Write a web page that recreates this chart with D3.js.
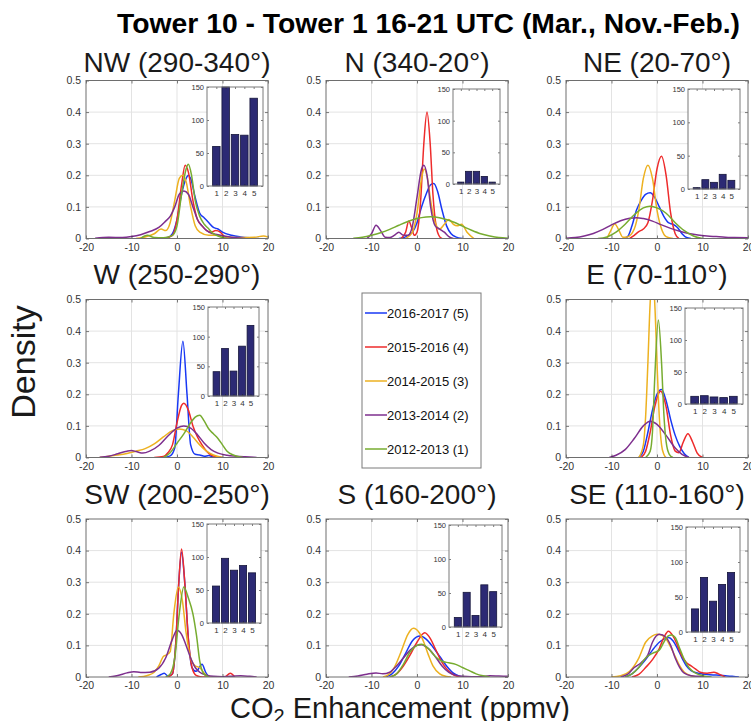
<!DOCTYPE html>
<html>
<head>
<meta charset="utf-8">
<script src="https://cdn.jsdelivr.net/npm/d3@7"></script>
<style>
  body { margin: 0; background: #fff; }
  text { font-family: "Liberation Sans", Arial, Helvetica, sans-serif; }
</style>
</head>
<body>
<svg id="chart"></svg>
<script>
// seasons, in legend order (plot order too)
var seasons = ["2016-2017 (5)", "2015-2016 (4)", "2014-2015 (3)", "2013-2014 (2)", "2012-2013 (1)"];
var barLabels = [1, 2, 3, 4, 5];
var xTicks = [-20, -10, 0, 10, 20];
var yTicks = [0, 0.1, 0.2, 0.3, 0.4, 0.5];
var countTicks = [0, 50, 100, 150];

// number of samples per season (1 = 2012-2013 ... 5 = 2016-2017)
var countsNW = [60, 150, 78, 77, 133];
var countsN  = [3, 20, 20, 12, 3];
var countsNE = [2, 14, 10, 22, 13];
var countsW  = [41, 80, 42, 84, 119];
var countsE  = [12, 13, 11, 10, 12];
var countsSW = [56, 98, 80, 87, 76];
var countsS  = [14, 51, 17, 62, 52];
var countsSE = [33, 78, 44, 68, 85];

// density curves [enhancement, density], order: 2016-17, 2015-16, 2014-15, 2013-14, 2012-13
var densNW = [
  [[-4,0],[-2,0.003],[-1,0.015],[0,0.06],[1,0.14],[2,0.19],[2.5,0.2],[3,0.19],[4,0.13],[5,0.08],[6,0.065],[7,0.05],[8,0.035],[9,0.03],[10,0.02],[12,0.01],[14,0.005],[16,0.002],[18,0]],
  [[-3,0],[-1,0.01],[0,0.06],[1,0.17],[1.8,0.232],[2.5,0.21],[3.5,0.12],[4.5,0.06],[5.5,0.04],[6.5,0.025],[7.5,0.02],[8.5,0.025],[9.5,0.02],[10.5,0.005],[11.5,0]],
  [[-9,0],[-7,0.005],[-5,0.015],[-3.5,0.03],[-2.5,0.025],[-1.5,0.05],[-0.5,0.12],[0.5,0.19],[1.2,0.2],[2,0.18],[3,0.1],[4,0.04],[5,0.02],[7,0.01],[9,0.01],[11,0.005],[14,0.003],[17,0.004],[19,0.008],[20,0.005]],
  [[-18,0.001],[-15,0.004],[-12,0.003],[-10,0.006],[-8,0.012],[-6,0.022],[-4,0.035],[-2.5,0.055],[-1.5,0.07],[-0.5,0.1],[0.5,0.14],[1.5,0.15],[2.5,0.14],[3.5,0.1],[4.5,0.06],[5.5,0.04],[7,0.02],[9,0.012],[11,0.006],[13,0.002],[15,0]],
  [[-8,0],[-6.5,0.01],[-5,0.003],[-3,0.002],[-1,0.01],[0,0.04],[1,0.14],[2,0.22],[2.5,0.235],[3.2,0.2],[4,0.12],[5,0.07],[6,0.045],[7,0.03],[8,0.015],[9,0.008],[11,0]]
];
var densN = [
  [[-4,0],[-2.5,0.005],[-1,0.02],[0,0.05],[1,0.1],[2,0.14],[3,0.17],[3.7,0.174],[4.5,0.15],[5.5,0.09],[6.5,0.04],[7.5,0.015],[8.5,0.005],[10,0]],
  [[-3.5,0],[-2.5,0.02],[-1.8,0.055],[-1.2,0.035],[-0.6,0.01],[0,0.02],[0.8,0.12],[1.5,0.3],[2.2,0.4],[2.9,0.3],[3.5,0.14],[4.2,0.04],[5,0.005],[5.5,0]],
  [[-2.5,0],[-1,0.02],[0,0.08],[1,0.19],[1.6,0.22],[2.3,0.19],[3,0.12],[4,0.05],[5,0.03],[6,0.045],[7,0.06],[8,0.045],[8.8,0.04],[9.8,0.045],[11,0.02],[12.5,0]],
  [[-11,0],[-10,0.015],[-9,0.042],[-8,0.025],[-7,0.004],[-6,0.003],[-5,0.01],[-4,0.02],[-3,0.01],[-2,0.01],[-1,0.04],[0,0.13],[1,0.22],[1.5,0.232],[2.2,0.2],[3,0.1],[4,0.04],[5,0.03],[6,0.02],[7,0.006],[8,0]],
  [[-14,0.001],[-12,0.004],[-10,0.01],[-8,0.018],[-6,0.029],[-4,0.042],[-2,0.054],[0,0.063],[2,0.068],[3,0.069],[4,0.068],[6,0.062],[8,0.052],[10,0.039],[12,0.026],[14,0.015],[16,0.008],[18,0.003],[20,0.001]]
];
var densNE = [
  [[-7.5,0],[-6.5,0.005],[-5.5,0.04],[-4.5,0.09],[-3.5,0.12],[-2.5,0.14],[-1.5,0.145],[-0.5,0.13],[0.5,0.1],[1.5,0.07],[2.5,0.05],[3.5,0.045],[4.5,0.035],[5.5,0.015],[6.5,0.003],[7.5,0]],
  [[-6,0],[-5,0.01],[-4,0.022],[-3,0.03],[-2,0.05],[-1,0.12],[0,0.22],[1,0.26],[2,0.2],[3,0.08],[4,0.015],[4.8,0]],
  [[-11,0],[-10,0.03],[-9.3,0.047],[-8.5,0.03],[-7.5,0.004],[-6.5,0.005],[-5,0.03],[-4,0.09],[-3,0.19],[-2,0.232],[-1,0.19],[0,0.09],[1,0.03],[2,0.006],[3.5,0]],
  [[-20,0.001],[-18,0.003],[-16,0.008],[-14,0.016],[-12,0.028],[-10,0.043],[-8,0.056],[-6,0.064],[-4.5,0.066],[-3,0.063],[-1,0.055],[1,0.043],[3,0.032],[5,0.023],[7,0.016],[9,0.011],[11,0.008],[13,0.006],[15,0.004],[17,0.003],[20,0.002]],
  [[-13,0],[-11,0.005],[-9,0.02],[-7,0.045],[-5,0.075],[-3,0.097],[-1.5,0.102],[0,0.097],[2,0.08],[4,0.05],[6,0.025],[8,0.008],[10,0]]
];
var densW = [
  [[-3,0],[-1.5,0.005],[-0.5,0.03],[0.3,0.2],[1.3,0.368],[2.2,0.2],[3,0.04],[4,0.01],[5,0.008],[6,0.004],[7,0.006],[8,0.001],[9,0]],
  [[-5,0],[-3,0.003],[-2,0.015],[-1,0.04],[0,0.11],[1,0.165],[1.5,0.172],[2.5,0.15],[3.5,0.1],[4.5,0.065],[5.5,0.04],[6.5,0.02],[7.5,0.008],[9,0.002],[10,0]],
  [[-17,0],[-15,0.004],[-13,0.008],[-11,0.013],[-9,0.02],[-7,0.028],[-5,0.043],[-3,0.065],[-1,0.085],[0.5,0.09],[2,0.085],[3.5,0.065],[5,0.04],[6.5,0.02],[8,0.008],[10,0]],
  [[-17,0.001],[-15,0.004],[-13,0.012],[-11,0.02],[-10,0.022],[-9,0.019],[-7.5,0.014],[-6,0.02],[-4,0.038],[-2,0.068],[0,0.093],[1.5,0.1],[3,0.093],[4.5,0.072],[6,0.045],[7.5,0.025],[9,0.014],[11,0.007],[13,0.004],[15,0.002],[17.5,0]],
  [[-3,0],[-1.5,0.015],[0,0.045],[1.5,0.075],[3,0.11],[4,0.128],[5,0.134],[6,0.115],[7,0.09],[8,0.075],[9,0.06],[10,0.04],[11,0.02],[12.5,0.007],[14.5,0]]
];
var densE = [
  [[-4,0],[-3,0.02],[-2,0.08],[-1,0.15],[0,0.2],[1,0.215],[2,0.18],[3,0.12],[4,0.07],[5,0.035],[6,0.012],[7,0]],
  [[-3.5,0],[-2.5,0.02],[-1.5,0.08],[-0.5,0.16],[0.8,0.21],[2,0.16],[3,0.07],[4,0.02],[4.8,0.015],[5.8,0.05],[6.8,0.075],[7.8,0.05],[8.8,0.015],[10,0]],
  [[-4,0],[-3,0.04],[-2.5,0.13],[-2,0.3],[-1.5,0.49],[-1,0.57],[-0.5,0.49],[0,0.3],[0.5,0.13],[1,0.04],[1.5,0.01],[2,0]],
  [[-10.5,0],[-9,0.007],[-7,0.025],[-5,0.06],[-3,0.1],[-1.5,0.115],[0,0.105],[2,0.07],[4,0.03],[5.5,0.01],[7,0]],
  [[-2.5,0],[-1.5,0.02],[-1,0.08],[-0.5,0.25],[0.3,0.435],[1,0.3],[1.5,0.14],[2,0.05],[2.7,0.01],[3.5,0]]
];
var densSW = [
  [[-4.5,0],[-3.5,0.008],[-2.8,0.012],[-2,0.003],[-1,0.01],[-0.3,0.1],[0.4,0.3],[1,0.395],[1.7,0.3],[2.5,0.12],[3.3,0.03],[4.2,0.018],[5.5,0.04],[6.3,0.015],[7,0]],
  [[-2,0],[-1,0.01],[-0.3,0.1],[0.4,0.3],[1,0.405],[1.7,0.3],[2.5,0.12],[3.3,0.03],[4.2,0.005],[5.5,0],[10.5,0],[11.7,0.012],[12.7,0]],
  [[-8.5,0],[-6.5,0.005],[-5,0.015],[-4,0.035],[-3,0.065],[-2.3,0.07],[-1.5,0.08],[-0.7,0.2],[0.3,0.285],[1.2,0.24],[2,0.14],[3,0.06],[4,0.035],[5,0.03],[6,0.012],[7,0]],
  [[-15,0],[-13,0.005],[-11,0.013],[-9.5,0.017],[-8,0.014],[-6,0.015],[-4,0.028],[-2.5,0.06],[-1,0.12],[0,0.148],[1,0.135],[2,0.1],[3,0.06],[4,0.03],[5,0.015],[6.5,0.006],[8,0.002],[10,0.001],[12,0.002],[14,0.004],[16,0.002],[17.5,0]],
  [[-2.5,0],[-1.5,0.01],[-0.5,0.06],[0.5,0.2],[1.5,0.285],[2.5,0.25],[3.5,0.2],[4.3,0.13],[5,0.05],[5.8,0.012],[7,0]]
];
var densS = [
  [[-7,0],[-5.5,0.01],[-4,0.035],[-2.5,0.075],[-1,0.115],[0.7,0.13],[2,0.12],[3.5,0.095],[5,0.065],[6.5,0.035],[8,0.012],[9.5,0.002],[10.5,0]],
  [[-6,0],[-4.5,0.01],[-3,0.035],[-1.5,0.07],[0,0.11],[1.7,0.14],[3,0.12],[4,0.09],[5,0.06],[6,0.035],[7,0.018],[8,0.007],[9.5,0]],
  [[-7.5,0],[-6.5,0.005],[-5,0.03],[-3.5,0.08],[-2,0.135],[-0.8,0.154],[0.5,0.14],[1.5,0.11],[2.5,0.07],[3.5,0.035],[5,0.01],[6.5,0.002],[7.5,0]],
  [[-15,0],[-13,0.003],[-11,0.009],[-9,0.013],[-7.5,0.01],[-6,0.015],[-4.5,0.035],[-3,0.06],[-1.5,0.085],[0,0.1],[1,0.102],[2.5,0.09],[4,0.065],[5.5,0.035],[7,0.015],[8.5,0.006],[10,0.002],[12,0.001],[14,0.001],[16,0.004],[18,0.003],[20,0.002]],
  [[-6,0],[-4.5,0.01],[-3,0.04],[-1.5,0.08],[0,0.1],[1,0.104],[2.5,0.09],[4,0.065],[5.5,0.05],[7,0.045],[8.5,0.04],[10,0.03],[11.5,0.02],[13,0.01],[14.5,0.004],[16,0]]
];
var densSE = [
  [[-7,0],[-5.5,0.01],[-4,0.03],[-2.5,0.055],[-1,0.085],[0.5,0.11],[1.5,0.12],[2.5,0.125],[3.5,0.115],[4.5,0.09],[5.5,0.06],[6.5,0.035],[7.5,0.02],[9,0.012],[11,0.008],[13,0.006],[15,0.004],[16.5,0.002],[18,0]],
  [[-5.5,0],[-4,0.008],[-2.5,0.03],[-1,0.055],[0.5,0.09],[1.5,0.125],[2.5,0.145],[3.5,0.13],[4.5,0.1],[5.5,0.065],[6.5,0.045],[7.5,0.035],[8.5,0.025],[9.5,0.015],[11,0.012],[12.5,0.015],[13.5,0.01],[15,0]],
  [[-10,0],[-8,0.004],[-6,0.018],[-4,0.06],[-2.5,0.11],[-1,0.13],[0,0.135],[1,0.133],[2,0.12],[3,0.095],[4,0.065],[5,0.035],[6,0.015],[7.5,0.004],[9,0]],
  [[-8,0],[-6.5,0.008],[-5,0.03],[-3.5,0.045],[-2,0.07],[-1,0.11],[0.5,0.135],[2,0.125],[3,0.1],[4,0.06],[5,0.03],[6,0.012],[7.5,0.004],[9,0.002],[11,0]],
  [[-7,0],[-5.5,0.01],[-4,0.03],[-2.5,0.06],[-1,0.075],[0.5,0.085],[1.5,0.11],[2.5,0.13],[3.2,0.133],[4,0.125],[5,0.09],[6,0.055],[7,0.03],[8.5,0.012],[10,0.004],[12,0]]
];

var colors = ["#1838f4", "#ee2b2b", "#edb120", "#7e2f8e", "#77ac30"];

var width = 751, height = 721;
var plotW = 182, plotH = 158;
var colX = [86, 326, 566];
var rowY = [80.5, 299.5, 519];
var titleY = [72, 283.5, 503.5];

// title, data, grid cell and inset box [x, y, w, h]
var panels = [
  {title: "NW (290-340°)", counts: countsNW, dens: densNW, col: 0, row: 0, inset: [207, 87, 56, 99]},
  {title: "N (340-20°)",   counts: countsN,  dens: densN,  col: 1, row: 0, inset: [453, 89, 47, 95]},
  {title: "NE (20-70°)",   counts: countsNE, dens: densNE, col: 2, row: 0, inset: [688, 89, 52, 100]},
  {title: "W (250-290°)",  counts: countsW,  dens: densW,  col: 0, row: 1, inset: [208, 307, 51, 89]},
  {title: "E (70-110°)",   counts: countsE,  dens: densE,  col: 2, row: 1, inset: [685, 308, 58, 96]},
  {title: "SW (200-250°)", counts: countsSW, dens: densSW, col: 0, row: 2, inset: [207, 524, 54, 99]},
  {title: "S (160-200°)",  counts: countsS,  dens: densS,  col: 1, row: 2, inset: [449, 525, 53, 102]},
  {title: "SE (110-160°)", counts: countsSE, dens: densSE, col: 2, row: 2, inset: [686, 527, 54, 105]}
];

var svg = d3.select("#chart")
    .attr("width", width)
    .attr("height", height);

svg.append("rect").attr("width", width).attr("height", height).attr("fill", "#fff");

var x = d3.scaleLinear().domain([-20, 20]).range([0, plotW]);
var y = d3.scaleLinear().domain([0, 0.5]).range([plotH, 0]);

var line = d3.line()
    .x(function(d) { return x(d[0]); })
    .y(function(d) { return y(d[1]); })
    .curve(d3.curveMonotoneX);

function styleAxis(g, size) {
  g.select(".domain").remove();
  g.selectAll(".tick line").attr("stroke", "#262626").attr("stroke-width", 0.6);
  g.selectAll(".tick text").attr("fill", "#333").attr("font-size", size)
    .style("font-family", "'Liberation Sans', Arial, sans-serif");
}

panels.forEach(function(p, i) {
  var x0 = colX[p.col], y0 = rowY[p.row];
  var g = svg.append("g").attr("transform", "translate(" + x0 + "," + y0 + ")");

  g.append("clipPath").attr("id", "clip" + i)
    .append("rect").attr("width", plotW).attr("height", plotH);

  // grid
  g.selectAll(".vgrid").data(xTicks.slice(1, -1)).enter().append("line")
    .attr("x1", function(d) { return x(d); }).attr("x2", function(d) { return x(d); })
    .attr("y1", 0).attr("y2", plotH)
    .attr("stroke", "#e3e3e3").attr("stroke-width", 1);
  g.selectAll(".hgrid").data(yTicks.slice(1, -1)).enter().append("line")
    .attr("x1", 0).attr("x2", plotW)
    .attr("y1", function(d) { return y(d); }).attr("y2", function(d) { return y(d); })
    .attr("stroke", "#e3e3e3").attr("stroke-width", 1);

  // density curves
  g.append("g").attr("clip-path", "url(#clip" + i + ")")
    .selectAll("path").data(p.dens).enter().append("path")
    .attr("d", line)
    .attr("fill", "none")
    .attr("stroke", function(d, k) { return colors[k]; })
    .attr("stroke-width", 1.5);

  // axes, ticks pointing inward like the original
  g.append("g").attr("transform", "translate(0," + plotH + ")")
    .call(d3.axisBottom(x).tickValues(xTicks).tickSize(-3).tickPadding(5)
      .tickFormat(function(d) { return String(d); }))
    .call(styleAxis, 10.5);
  g.append("g")
    .call(d3.axisLeft(y).tickValues(yTicks).tickSize(-3).tickPadding(5)
      .tickFormat(function(d) { return d === 0 ? "0" : d3.format(".1f")(d); }))
    .call(styleAxis, 10.5);
  g.append("g").call(d3.axisTop(x).tickValues(xTicks).tickSize(-3).tickFormat(""))
    .call(styleAxis, 10.5);
  g.append("g").attr("transform", "translate(" + plotW + ",0)")
    .call(d3.axisRight(y).tickValues(yTicks).tickSize(-3).tickFormat(""))
    .call(styleAxis, 10.5);

  g.append("rect").attr("width", plotW).attr("height", plotH)
    .attr("fill", "none").attr("stroke", "#6e6e6e").attr("stroke-width", 1);

  svg.append("text")
    .attr("x", x0 + plotW / 2).attr("y", titleY[p.row])
    .attr("text-anchor", "middle")
    .attr("font-size", 28)
    .attr("fill", "#1a1a1a")
    .text(p.title);

  // inset bar chart of counts
  var b = p.inset;
  var ig = svg.append("g").attr("transform", "translate(" + b[0] + "," + b[1] + ")");
  var bx = d3.scaleLinear().domain([0, 6]).range([0, b[2]]);
  var by = d3.scaleLinear().domain([0, 150]).range([b[3], 0]);

  ig.append("rect").attr("width", b[2]).attr("height", b[3]).attr("fill", "#fff");
  ig.selectAll(".bar").data(p.counts).enter().append("rect")
    .attr("x", function(d, k) { return bx(barLabels[k] - 0.4); })
    .attr("width", bx(0.8) - bx(0))
    .attr("y", function(d) { return by(d); })
    .attr("height", function(d) { return b[3] - by(d); })
    .attr("fill", "#2c2a74")
    .attr("stroke", "#15153a")
    .attr("stroke-width", 0.8);

  ig.append("g").attr("transform", "translate(0," + b[3] + ")")
    .call(d3.axisBottom(bx).tickValues(barLabels).tickSize(-2).tickPadding(4)
      .tickFormat(function(d) { return String(d); }))
    .call(styleAxis, 8);
  ig.append("g")
    .call(d3.axisLeft(by).tickValues(countTicks).tickSize(-2).tickPadding(3)
      .tickFormat(function(d) { return String(d); }))
    .call(styleAxis, 7.5);
  ig.append("g").call(d3.axisTop(bx).tickValues(barLabels).tickSize(-2).tickFormat(""))
    .call(styleAxis, 8);
  ig.append("g").attr("transform", "translate(" + b[2] + ",0)")
    .call(d3.axisRight(by).tickValues(countTicks).tickSize(-2).tickFormat(""))
    .call(styleAxis, 8);
  ig.append("rect").attr("width", b[2]).attr("height", b[3])
    .attr("fill", "none").attr("stroke", "#7a7a7a").attr("stroke-width", 1);
});

// legend
var legend = svg.append("g").attr("transform", "translate(362,293)");
legend.append("rect").attr("width", 119).attr("height", 175)
  .attr("fill", "#fff").attr("stroke", "#7a7a7a").attr("stroke-width", 1);
var item = legend.selectAll(".item").data(seasons).enter().append("g")
  .attr("transform", function(d, k) { return "translate(0," + (20 + k * 34) + ")"; });
item.append("line").attr("x1", 3).attr("x2", 25)
  .attr("stroke", function(d, k) { return colors[k]; }).attr("stroke-width", 1.5);
item.append("text").attr("x", 25).attr("dy", "0.35em")
  .attr("font-size", 13).attr("fill", "#111")
  .text(function(d) { return d; });

// figure title and axis labels
svg.append("text")
  .attr("x", 117).attr("y", 33)
  .attr("font-size", 28).attr("font-weight", "bold")
  .attr("textLength", 623).attr("lengthAdjust", "spacingAndGlyphs")
  .text("Tower 10 - Tower 1 16-21 UTC (Mar., Nov.-Feb.)");

svg.append("text")
  .attr("transform", "translate(35,362) rotate(-90)")
  .attr("text-anchor", "middle")
  .attr("font-size", 34).attr("fill", "#1a1a1a")
  .text("Density");

var xl = svg.append("text")
  .attr("x", 400).attr("y", 718)
  .attr("text-anchor", "middle")
  .attr("font-size", 29).attr("fill", "#1a1a1a");
xl.append("tspan").text("CO");
xl.append("tspan").attr("font-size", 20).attr("dy", 5).text("2");
xl.append("tspan").attr("dy", -5).text(" Enhancement (ppmv)");
</script>
</body>
</html>
